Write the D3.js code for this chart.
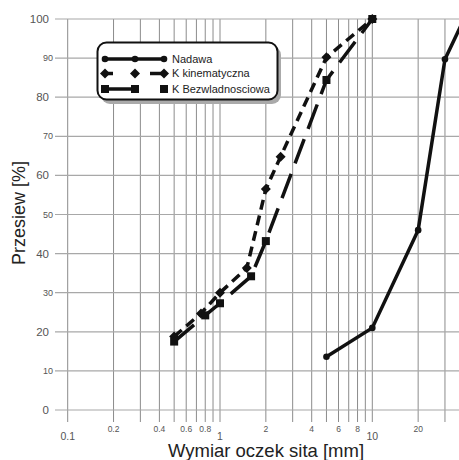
<!DOCTYPE html>
<html>
<head>
<meta charset="utf-8">
<script src="https://cdn.jsdelivr.net/npm/d3@7"></script>
<style>
  body { margin: 0; background: #fff; }
  svg { display: block; font-family: "Liberation Sans", Arial, sans-serif; }
</style>
</head>
<body>
<script>
var width = 459, height = 460;

// sieve sizes [mm] and passing [%]
var nadawaX = [5, 10, 20, 30, 40];
var nadawaY = [13.6, 21, 46, 89.7, 100];
var kinX = [0.5, 0.75, 1, 1.5, 2, 2.5, 5, 10];
var kinY = [18.8, 24.7, 30, 36.3, 56.5, 64.8, 90.2, 100];
var bezX = [0.5, 0.8, 1, 1.6, 2, 5, 10];
var bezY = [17.5, 24.2, 27.3, 34.2, 43.2, 84.4, 100];

var gridX = [0.1, 0.2, 0.3, 0.4, 0.5, 0.6, 0.7, 0.8, 0.9, 1, 2, 3, 4, 5, 6, 7, 8, 9, 10, 20, 30, 40];
var majorLabelsX = [0.1, 1, 10];
var minorLabelsX = [0.2, 0.4, 0.6, 0.8, 2, 4, 6, 8, 20, 40];
var ticksY = [0, 10, 20, 30, 40, 50, 60, 70, 80, 90, 100];

var seriesNames = ["Nadawa", "K kinematyczna", "K Bezwladnosciowa"];

var x = d3.scaleLog().domain([0.1, 100]).range([67.7, 524.6]);
var y = d3.scaleLinear().domain([0, 100]).range([410, 19]);

var svg = d3.select("body").append("svg")
    .attr("width", width)
    .attr("height", height);

// grid
svg.append("g").selectAll("line")
    .data(gridX)
    .enter().append("line")
    .attr("x1", function (d) { return x(d); })
    .attr("x2", function (d) { return x(d); })
    .attr("y1", y(100))
    .attr("y2", 422)
    .attr("stroke", "#8c8c8c")
    .attr("stroke-width", 1);

svg.append("g").selectAll("line")
    .data(ticksY)
    .enter().append("line")
    .attr("x1", 55)
    .attr("x2", width)
    .attr("y1", function (d) { return y(d); })
    .attr("y2", function (d) { return y(d); })
    .attr("stroke", "#a8a8a8")
    .attr("stroke-width", 1.2);

// y tick labels
svg.append("g").selectAll("text")
    .data(ticksY)
    .enter().append("text")
    .attr("x", function (d) { return d % 20 == 0 ? 49 : 53; })
    .attr("y", function (d) { return y(d); })
    .attr("dy", "0.35em")
    .attr("text-anchor", "end")
    .attr("font-size", function (d) { return d % 20 == 0 ? 11.5 : 9; })
    .attr("fill", "#555")
    .text(function (d) { return d; });

// x tick labels
svg.append("g").selectAll("text")
    .data(majorLabelsX)
    .enter().append("text")
    .attr("x", function (d) { return x(d); })
    .attr("y", 439.5)
    .attr("text-anchor", "middle")
    .attr("font-size", 10.5)
    .attr("fill", "#555")
    .text(function (d) { return d; });

svg.append("g").selectAll("text")
    .data(minorLabelsX)
    .enter().append("text")
    .attr("x", function (d) { return x(d); })
    .attr("y", 431.5)
    .attr("text-anchor", "middle")
    .attr("font-size", 8.5)
    .attr("fill", "#555")
    .text(function (d) { return d; });

// axis titles
svg.append("text")
    .attr("x", 266)
    .attr("y", 457)
    .attr("text-anchor", "middle")
    .attr("font-size", 18.5)
    .attr("fill", "#222")
    .text("Wymiar oczek sita [mm]");

svg.append("text")
    .attr("transform", "translate(25,213) rotate(-90)")
    .attr("text-anchor", "middle")
    .attr("font-size", 18)
    .attr("fill", "#222")
    .text("Przesiew [%]");

// series
var line = d3.line()
    .x(function (d) { return x(d[0]); })
    .y(function (d) { return y(d[1]); });

function zip(a, b) { return a.map(function (v, i) { return [v, b[i]]; }); }

var plot = svg.append("g");

var styles = [
    {dash: null, marker: "circle"},
    {dash: "10,6", marker: "diamond"},
    {dash: "26,11", marker: "square"}
];

function drawMarker(g, type, cx, cy) {
    if (type == "circle") {
        g.append("circle").attr("cx", cx).attr("cy", cy).attr("r", 3.3).attr("fill", "#111");
    } else if (type == "diamond") {
        g.append("path")
            .attr("d", "M" + cx + "," + (cy - 5) + "L" + (cx + 5) + "," + cy + "L" + cx + "," + (cy + 5) + "L" + (cx - 5) + "," + cy + "Z")
            .attr("fill", "#111");
    } else {
        g.append("rect").attr("x", cx - 4).attr("y", cy - 4).attr("width", 8).attr("height", 8).attr("fill", "#111");
    }
}

var data = [zip(nadawaX, nadawaY), zip(kinX, kinY), zip(bezX, bezY)];

data.forEach(function (pts, i) {
    plot.append("path")
        .datum(pts)
        .attr("d", line)
        .attr("fill", "none")
        .attr("stroke", "#111")
        .attr("stroke-width", 3.5)
        .attr("stroke-dasharray", styles[i].dash);
    pts.forEach(function (p) {
        drawMarker(plot, styles[i].marker, x(p[0]), y(p[1]));
    });
});

// legend
var lg = svg.append("g");
lg.append("rect")
    .attr("x", 101).attr("y", 46).attr("width", 180).attr("height", 58)
    .attr("rx", 9).attr("fill", "#aaa");
lg.append("rect")
    .attr("x", 97.5).attr("y", 42.5).attr("width", 180).attr("height", 57)
    .attr("rx", 9).attr("fill", "#fff").attr("stroke", "#111").attr("stroke-width", 2);

var legendY = [59, 73.5, 89];
var sampleX = [105, 135, 164];

seriesNames.forEach(function (name, i) {
    var ly = legendY[i];
    var seg = lg.append("g");
    if (i == 0) {
        seg.append("line").attr("x1", sampleX[0]).attr("x2", sampleX[2]).attr("y1", ly).attr("y2", ly)
            .attr("stroke", "#111").attr("stroke-width", 3.5);
    } else if (i == 1) {
        seg.append("line").attr("x1", sampleX[0]).attr("x2", sampleX[0] + 8).attr("y1", ly).attr("y2", ly)
            .attr("stroke", "#111").attr("stroke-width", 3.5);
        seg.append("line").attr("x1", sampleX[2] - 14).attr("x2", sampleX[2]).attr("y1", ly).attr("y2", ly)
            .attr("stroke", "#111").attr("stroke-width", 3.5);
    } else {
        seg.append("line").attr("x1", sampleX[0]).attr("x2", sampleX[1]).attr("y1", ly).attr("y2", ly)
            .attr("stroke", "#111").attr("stroke-width", 3.5);
    }
    sampleX.forEach(function (sx) {
        drawMarker(seg, styles[i].marker, sx, ly);
    });
    lg.append("text")
        .attr("x", 172)
        .attr("y", ly)
        .attr("dy", "0.35em")
        .attr("font-size", 11)
        .attr("fill", "#222")
        .text(name);
});
</script>
</body>
</html>
